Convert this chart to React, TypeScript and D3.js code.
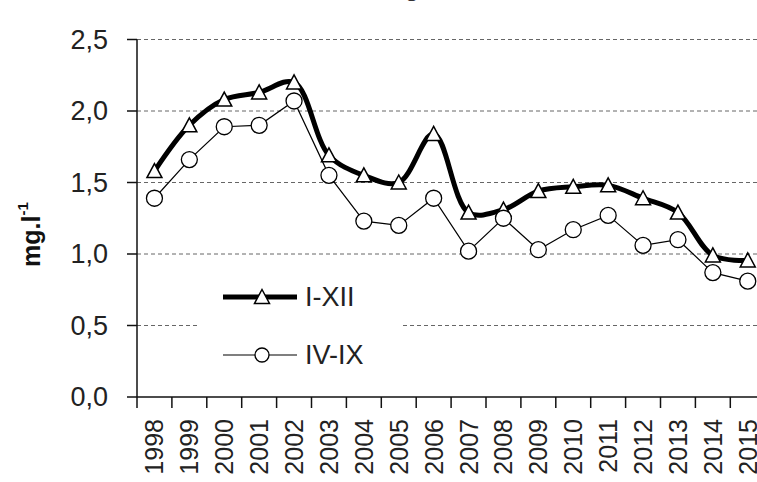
import React from "react";
import * as d3 from "d3";

const years = ["1998","1999","2000","2001","2002","2003","2004","2005","2006","2007","2008","2009","2010","2011","2012","2013","2014","2015"];
const seriesIXII = [1.58,1.90,2.08,2.13,2.20,1.69,1.55,1.50,1.84,1.29,1.31,1.44,1.47,1.48,1.39,1.29,0.99,0.955];
const seriesIVIX = [1.39,1.66,1.89,1.90,2.07,1.55,1.23,1.20,1.39,1.02,1.25,1.03,1.17,1.27,1.06,1.10,0.87,0.81];
const yTicks = [0, 0.5, 1.0, 1.5, 2.0, 2.5];
const legendLabels = ["I-XII", "IV-IX"];

const W = 757, H = 482;
const FONT = "'Liberation Sans', Arial, Helvetica, sans-serif";

export default function App() {
  const x = d3.scaleBand<string>().domain(years).range([137, 137 + 34.9 * 18]).padding(0);
  const y = d3.scaleLinear().domain([0, 2.5]).range([397, 39.5]);
  const cx = (i: number) => (x(years[i]) as number) + x.bandwidth() / 2;

  const thick = d3.line<number>().x((_, i) => cx(i)).y(d => y(d)).curve(d3.curveCatmullRom.alpha(0.5));
  const thin = d3.line<number>().x((_, i) => cx(i)).y(d => y(d)).curve(d3.curveLinear);

  const tri = (px: number, py: number, w = 15, h = 13) =>
    `M${px},${py - h / 2 - 1}L${px + w / 2},${py + h / 2}L${px - w / 2},${py + h / 2}Z`;

  const x0 = 137;
  const bounds = years.map((_, i) => x0 + i * x.bandwidth()).concat([x0 + 18 * x.bandwidth()]);

  return (
    <svg width={W} height={H} style={{ position: "absolute", left: 0, top: 0, background: "#fff" }} fontFamily={FONT}>
      <rect x={0} y={0} width={W} height={H} fill="#fff" />
      {/* cut-off title fragment */}
      <text x={412} y={-4} fontSize={26} fill="#333" textAnchor="middle">g</text>

      {/* gridlines */}
      {yTicks.filter(t => t > 0).map(t => (
        <line key={t} x1={x0} x2={W} y1={y(t)} y2={y(t)} stroke="#666" strokeWidth={1} strokeDasharray="4,3" />
      ))}

      {/* legend background */}
      <rect x={200} y={268} width={200} height={110} fill="#fff" />

      {/* axes */}
      <line x1={x0} x2={x0} y1={y(2.5)} y2={y(0)} stroke="#111" strokeWidth={1.5} />
      <line x1={x0} x2={W} y1={y(0)} y2={y(0)} stroke="#111" strokeWidth={1.5} />
      {yTicks.map(t => (
        <g key={t}>
          <line x1={127} x2={x0} y1={y(t)} y2={y(t)} stroke="#111" strokeWidth={1.5} />
          <text x={108} y={y(t)} dominantBaseline="central" textAnchor="end" fontSize={27} fill="#222">
            {t.toFixed(1).replace(".", ",")}
          </text>
        </g>
      ))}
      {bounds.map((b, i) => (
        <line key={i} x1={b} x2={b} y1={y(0)} y2={408} stroke="#111" strokeWidth={1.5} />
      ))}
      {years.map((yr, i) => (
        <text key={yr} transform={`translate(${cx(i)},419) rotate(-90)`} textAnchor="end" dominantBaseline="central" fontSize={25} fill="#222">
          {yr}
        </text>
      ))}

      {/* y axis label */}
      <text transform="translate(31,267) rotate(-90)" fontSize={25} fontWeight="bold" fill="#111" dominantBaseline="central">
        mg.l<tspan fontSize={15} dy={-9}>-1</tspan>
      </text>

      {/* series I-XII */}
      <path d={thick(seriesIXII) || ""} fill="none" stroke="#000" strokeWidth={5} strokeLinejoin="round" />
      {seriesIXII.map((v, i) => (
        <path key={i} d={tri(cx(i), y(v))} fill="#fff" stroke="#000" strokeWidth={1.5} />
      ))}

      {/* series IV-IX */}
      <path d={thin(seriesIVIX) || ""} fill="none" stroke="#000" strokeWidth={1.2} />
      {seriesIVIX.map((v, i) => (
        <circle key={i} cx={cx(i)} cy={y(v)} r={8} fill="#fff" stroke="#000" strokeWidth={1.3} />
      ))}

      {/* legend */}
      <line x1={223} x2={297} y1={297} y2={297} stroke="#000" strokeWidth={5} />
      <path d={tri(262, 297)} fill="#fff" stroke="#000" strokeWidth={1.5} />
      <text x={305} y={297} dominantBaseline="central" fontSize={27} fill="#222">{legendLabels[0]}</text>
      <line x1={223} x2={297} y1={355} y2={355} stroke="#000" strokeWidth={1.2} />
      <circle cx={262} cy={355} r={7} fill="#fff" stroke="#000" strokeWidth={1.3} />
      <text x={305} y={355} dominantBaseline="central" fontSize={27} fill="#222">{legendLabels[1]}</text>
    </svg>
  );
}
